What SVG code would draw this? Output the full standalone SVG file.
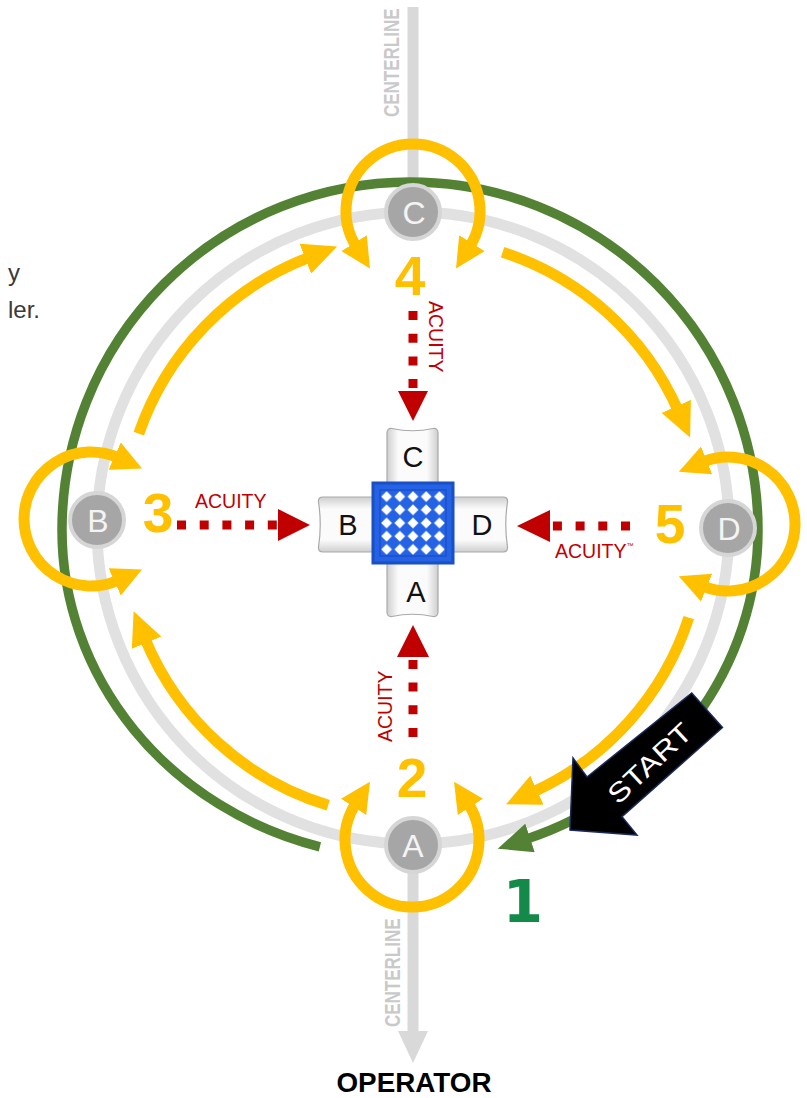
<svg xmlns="http://www.w3.org/2000/svg" width="807" height="1098" viewBox="0 0 807 1098">
<style>
  .cl{stroke:#d9d9d9;stroke-width:11;fill:none}
  .cl-head{fill:#d9d9d9}
  .cl-txt{font-family:"Liberation Sans",Arial,sans-serif;font-weight:bold;font-size:17px;fill:#c9c9c9}
  .ring{fill:none;stroke:#e1e1e1;stroke-width:11}
  .green{fill:none;stroke:#548235;stroke-width:9.5}
  .flow{fill:none;stroke:#ffc000;stroke-width:11}
  .node circle{fill:#a6a6a6;stroke:#d6d6d6;stroke-width:4}
  .node text{font-family:"Liberation Sans",Arial,sans-serif;font-size:32px;fill:#f4f4f4;text-anchor:middle}
  .step{font-family:"Liberation Sans",Arial,sans-serif;font-weight:bold;font-size:55px;fill:#ffc000;text-anchor:middle}
  .step1{font-family:"DejaVu Sans",sans-serif;font-weight:bold;font-size:58px;fill:#138a4a;text-anchor:middle}
  .acuity{stroke:#c00000;stroke-width:9;stroke-dasharray:9 13.7;fill:none}
  .acuity-head{fill:#c00000}
  .acuity-txt{font-family:"Liberation Sans",Arial,sans-serif;font-size:19.5px;fill:#c00000}
  .tab{stroke:#a9a9a9;stroke-width:1.2}
  .tab-txt{font-family:"Liberation Sans",Arial,sans-serif;font-size:29px;fill:#111;text-anchor:middle}
  .side-txt{font-family:"Liberation Sans",Arial,sans-serif;font-size:24px;fill:#3a3a3a}
</style>
<defs>
  <marker id="yHead" markerUnits="userSpaceOnUse" viewBox="0 0 34 32" markerWidth="34" markerHeight="32" refX="4" refY="16" orient="auto-start-reverse">
    <path d="M0,0 L34,16 L0,32 Z" fill="#ffc000"/>
  </marker>
  <marker id="yLoopHead" markerUnits="userSpaceOnUse" viewBox="0 0 30 30" markerWidth="30" markerHeight="30" refX="4" refY="15" orient="auto-start-reverse">
    <path d="M0,0 L30,15 L0,30 Z" fill="#ffc000"/>
  </marker>
  <marker id="gHead" markerUnits="userSpaceOnUse" viewBox="0 0 34 30" markerWidth="34" markerHeight="30" refX="4" refY="15" orient="auto">
    <path d="M0,0 L34,15 L0,30 Z" fill="#548235"/>
  </marker>
  <linearGradient id="tabV" x1="0" y1="0" x2="1" y2="0">
    <stop offset="0" stop-color="#cfcfcf"/>
    <stop offset="0.22" stop-color="#fbfbfb"/>
    <stop offset="0.78" stop-color="#fbfbfb"/>
    <stop offset="1" stop-color="#cfcfcf"/>
  </linearGradient>
  <linearGradient id="tabH" x1="0" y1="0" x2="0" y2="1">
    <stop offset="0" stop-color="#cfcfcf"/>
    <stop offset="0.22" stop-color="#fbfbfb"/>
    <stop offset="0.78" stop-color="#fbfbfb"/>
    <stop offset="1" stop-color="#cfcfcf"/>
  </linearGradient>
  <pattern id="lattice" patternUnits="userSpaceOnUse" x="380" y="490" width="13.2" height="13.2">
    <rect width="13.2" height="13.2" fill="#2463e6"/>
    <polygon points="6.6,1.2 12,6.6 6.6,12 1.2,6.6" fill="#ffffff"/>
  </pattern>
</defs>

<!-- centerline through the layout -->
<g id="centerline">
  <line class="cl" x1="413" y1="7" x2="413" y2="205"/>
  <line class="cl" x1="413" y1="845" x2="413" y2="1033"/>
  <polygon class="cl-head" points="398,1031 428,1031 413,1063"/>
  <text class="cl-txt" transform="translate(399,117) rotate(-90) scale(1,1.3)">CENTERLINE</text>
  <text class="cl-txt" transform="translate(400,1027) rotate(-90) scale(1,1.3)">CENTERLINE</text>
</g>

<!-- rings and flow arrows -->
<g id="connectors">
  <circle class="ring" cx="413" cy="528" r="316"/>
  <path id="green-path" class="green" d="M319.9,846.8 A348,328 0 0 1 62,530 A348,348 0 0 1 758,530 A348,328 0 0 1 526.2,839.2" marker-end="url(#gHead)"/>
  <path id="flow-B-C" class="flow" d="M138.8,433.6 A290,290 0 0 1 309.1,257.3" marker-end="url(#yHead)"/>
  <path id="flow-C-D" class="flow" d="M502.6,252.2 A290,290 0 0 1 677.9,410.0" marker-end="url(#yHead)"/>
  <path id="flow-D-A" class="flow" d="M688.8,617.6 A290,290 0 0 1 533.3,791.9" marker-end="url(#yHead)"/>
  <path id="flow-A-B" class="flow" d="M328.2,805.3 A290,290 0 0 1 145.1,639.0" marker-end="url(#yHead)"/>
  <path id="loop-C" class="flow" d="M356.2,246.5 A67,67 0 1 1 469.8,246.5" marker-start="url(#yLoopHead)" marker-end="url(#yLoopHead)"/>
  <path id="loop-A" class="flow" d="M468.2,803.5 A67,67 0 1 1 355.8,803.5" marker-start="url(#yLoopHead)" marker-end="url(#yLoopHead)"/>
  <path id="loop-B" class="flow" d="M118.3,580.2 A67,67 0 1 1 118.3,457.8" marker-start="url(#yLoopHead)" marker-end="url(#yLoopHead)"/>
  <path id="loop-D" class="flow" d="M702.9,461.9 A67,67 0 1 1 702.9,586.1" marker-start="url(#yLoopHead)" marker-end="url(#yLoopHead)"/>
</g>

<!-- positions on the ring -->
<g id="node-A" class="node"><circle cx="413" cy="845" r="27"/><text x="413" y="857">A</text></g>
<g id="node-B" class="node"><circle cx="97" cy="520" r="27"/><text x="98" y="532">B</text></g>
<g id="node-C" class="node"><circle cx="413" cy="212" r="27"/><text x="414" y="224">C</text></g>
<g id="node-D" class="node"><circle cx="728" cy="528" r="27"/><text x="729" y="540">D</text></g>

<!-- acuity arrows toward the centre -->
<g id="acuity-arrows">
  <line class="acuity" x1="413" y1="311" x2="413" y2="392"/>
  <polygon class="acuity-head" points="398,391 428,391 413,421"/>
  <text class="acuity-txt" transform="translate(429,301) rotate(90)">ACUITY</text>

  <line class="acuity" x1="177" y1="525" x2="279" y2="525"/>
  <polygon class="acuity-head" points="278,509 310,525 278,541"/>
  <text class="acuity-txt" x="195" y="508">ACUITY</text>

  <line class="acuity" x1="630" y1="526" x2="549" y2="526"/>
  <polygon class="acuity-head" points="550,510 517,526 550,542"/>
  <text class="acuity-txt" x="555" y="558">ACUITY<tspan font-size="7" dy="-10">™</tspan></text>

  <line class="acuity" x1="413" y1="737" x2="413" y2="656"/>
  <polygon class="acuity-head" points="397,657 429,657 413,625"/>
  <text class="acuity-txt" transform="translate(392,742) rotate(-90)">ACUITY</text>
</g>

<!-- centre cross with tabs -->
<g id="centre-cross">
  <path class="tab" fill="url(#tabV)" d="M387,492 V433 Q387,428 392,428.5 Q412.5,433 433,428.5 Q438,428 438,433 V492 Z"/>
  <path class="tab" fill="url(#tabV)" d="M387,554 V612 Q387,617 392,616.5 Q412.5,612 433,616.5 Q438,617 438,612 V554 Z"/>
  <path class="tab" fill="url(#tabH)" d="M382,497 H323 Q318,497 318.5,502 Q322,524.5 318.5,547 Q318,552 323,552 H382 Z"/>
  <path class="tab" fill="url(#tabH)" d="M444,497 H503 Q508,497 507.5,502 Q504,524.5 507.5,547 Q508,552 503,552 H444 Z"/>
  <rect x="373" y="483" width="80" height="80" fill="#2463e6" stroke="#1b4fc4" stroke-width="3"/>
  <rect x="380" y="490" width="66" height="66" fill="url(#lattice)" stroke="#1d50c8" stroke-width="1.5"/>
  <text class="tab-txt" x="413" y="467">C</text>
  <text class="tab-txt" x="416" y="602">A</text>
  <text class="tab-txt" x="348" y="535">B</text>
  <text class="tab-txt" x="482" y="535">D</text>
</g>

<!-- step numbers -->
<g id="steps">
  <text class="step1" x="523" y="922">1</text>
  <text class="step" x="412" y="797">2</text>
  <text class="step" x="158" y="532">3</text>
  <text class="step" x="410" y="295">4</text>
  <text class="step" x="670" y="543">5</text>
</g>

<!-- start marker -->
<g id="start">
  <polygon points="691.7,693 722.5,727.5 622,816.7 637,835 570,830 573,758 587,777" fill="#000" stroke="#1a2a5a" stroke-width="1.5"/>
  <text transform="translate(656,770) rotate(-43)" font-family="Liberation Sans, Arial, sans-serif" font-size="27" fill="#fff" text-anchor="middle" textLength="104" lengthAdjust="spacingAndGlyphs">START</text>
</g>

<text id="operator" x="414" y="1092" font-family="Liberation Sans, Arial, sans-serif" font-weight="bold" font-size="27" fill="#000" text-anchor="middle" textLength="155" lengthAdjust="spacingAndGlyphs">OPERATOR</text>

<g id="side-text">
  <text class="side-txt" x="8" y="281">y</text>
  <text class="side-txt" x="8" y="318">ler.</text>
</g>
</svg>
